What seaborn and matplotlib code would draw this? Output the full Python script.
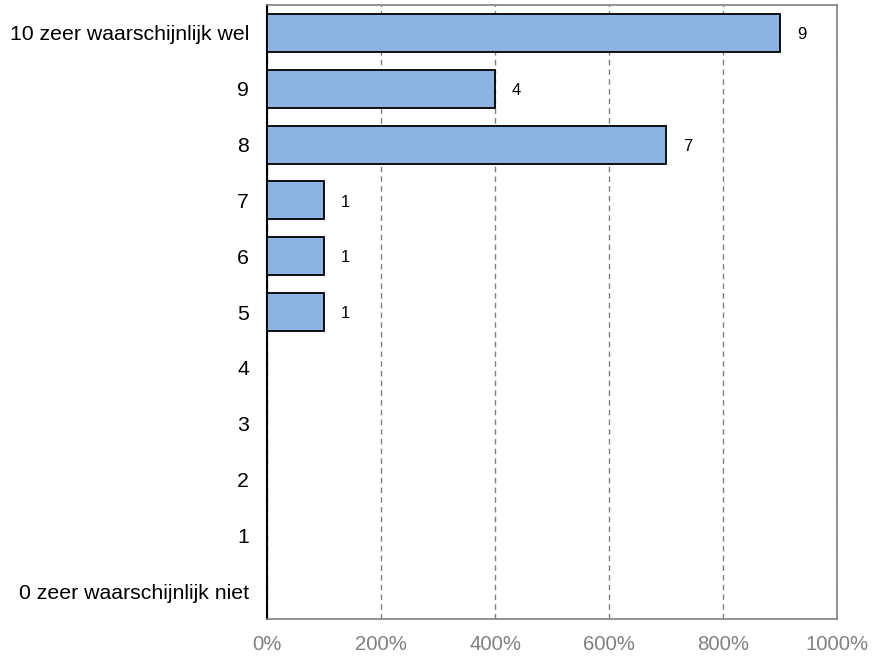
import matplotlib
matplotlib.use("Agg")
import matplotlib.pyplot as plt
import seaborn as sns
import pandas as pd
from matplotlib.ticker import FuncFormatter

categories = ["10 zeer waarschijnlijk wel", "9", "8", "7", "6", "5", "4", "3", "2", "1",
              "0 zeer waarschijnlijk niet"]
counts = [9, 4, 7, 1, 1, 1, 0, 0, 0, 0, 0]
percent = [c * 100 for c in counts]
x_ticks = [0, 200, 400, 600, 800, 1000]

df = pd.DataFrame({"cat": categories, "pct": percent, "n": counts})

sns.set_style("white")
plt.rcParams["font.family"] = ["Liberation Sans", "DejaVu Sans"]

fig = plt.figure(figsize=(8.74, 6.59), dpi=100)
ax = fig.add_axes([267 / 874, 40 / 659, (837 - 267) / 874, (619 - 5) / 659])

sns.barplot(data=df, y="cat", x="pct", orient="h", color="#8DB3E2",
            edgecolor="black", linewidth=1.3, width=0.68, saturation=1, ax=ax, zorder=3)

ax.set_xlim(0, 1000)
ax.set_xticks(x_ticks)
ax.xaxis.set_major_formatter(FuncFormatter(lambda v, p: f"{int(v)}%"))
ax.grid(axis="x", color="#808080", linestyle=(0, (4, 3)), linewidth=1, zorder=0)
ax.grid(axis="y", visible=False)
ax.set_xlabel("")
ax.set_ylabel("")

for s in ["top", "right", "bottom"]:
    ax.spines[s].set_color("#808080")
    ax.spines[s].set_linewidth(1.2)
ax.spines["left"].set_color("black")
ax.spines["left"].set_linewidth(1.5)

ax.tick_params(axis="x", colors="#808080", labelsize=14.7, length=0, pad=11.5)
ax.tick_params(axis="y", colors="black", labelsize=15.3, length=0, pad=13)
for lab in ax.get_xticklabels():
    lab.set_color("#808080")

for i, (v, n) in enumerate(zip(percent, counts)):
    if n > 0:
        ax.text(v + 30, i + 0.03, str(n), va="center", ha="left", fontsize=12, color="black")

fig.savefig("out.png", dpi=100)
